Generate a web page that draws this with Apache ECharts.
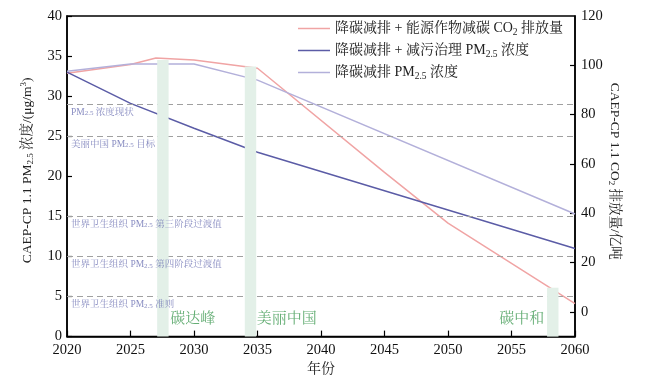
<!DOCTYPE html>
<html>
<head>
<meta charset="utf-8">
<script src="https://cdn.jsdelivr.net/npm/echarts@6/dist/echarts.min.js"></script>
<style>html,body{margin:0;padding:0;background:#fff}#c{width:650px;height:381px}</style>
</head>
<body>
<div id="c"></div>
<script>
// ---- data ----
const xTicks = [2020, 2025, 2030, 2035, 2040, 2045, 2050, 2055, 2060];
const leftTicks = [0, 5, 10, 15, 20, 25, 30, 35, 40];
const rightTicks = [0, 20, 40, 60, 80, 100, 120];

const co2Years = [2020, 2025, 2027, 2030, 2035, 2045, 2050, 2060];
const co2Values = [96.8, 100.3, 103.0, 102.2, 98.8, 56.6, 36.0, 3.4];

const pmControlYears = [2020, 2025, 2030, 2035, 2060];
const pmControlValues = [33.0, 29.1, 26.0, 23.0, 11.0];

const pmCarbonYears = [2020, 2025, 2030, 2035, 2060];
const pmCarbonValues = [33.1, 34.0, 34.0, 32.0, 15.3];

const refValues = [29, 25, 15, 10, 5];
const refLabels = ['PM{s|2.5} 浓度现状', '美丽中国 PM{s|2.5} 目标', '世界卫生组织 PM{s|2.5} 第三阶段过渡值', '世界卫生组织 PM{s|2.5} 第四阶段过渡值', '世界卫生组织 PM{s|2.5} 准则'];

const barStart = [2027.1, 2034.0, 2057.8];
const barEnd = [2028.0, 2034.9, 2058.7];
const barTop = [34.5, 33.7, 6.1];

const milestoneNames = ['碳达峰', '美丽中国', '碳中和'];
const milestoneX = [2029.9, 2037.3, 2055.8];
const milestoneY = [2.2, 2.2, 2.2];

const seriesNames = ['降碳减排 + 能源作物减碳 CO2 排放量', '降碳减排 + 减污治理 PM2.5 浓度', '降碳减排 PM2.5 浓度'];
const legendRichNames = ['降碳减排 + 能源作物减碳 CO{sub|2} 排放量', '降碳减排 + 减污治理 PM{sub|2.5} 浓度', '降碳减排 PM{sub|2.5} 浓度'];

// ---- chart ----
const FONT = "'Liberation Serif', 'Noto Serif CJK SC', 'Noto Sans CJK SC', serif";
const zip = (xs, ys) => xs.map((x, i) => [x, ys[i]]);
const chart = echarts.init(document.getElementById('c'), null, {renderer: 'canvas'});

const option = {
  animation: false,
  textStyle: {fontFamily: FONT},
  grid: {left: 67, right: 75, top: 16, bottom: 44, show: true, borderColor: '#000', borderWidth: 1.5, backgroundColor: 'transparent'},
  legend: {
    orient: 'vertical', left: 293, top: 15, itemGap: 5, itemWidth: 32, itemHeight: 1.5, icon: 'rect',
    data: seriesNames,
    formatter: name => legendRichNames[seriesNames.indexOf(name)],
    textStyle: {fontFamily: FONT, fontSize: 14, color: '#222', lineHeight: 17,
      rich: {sub: {fontFamily: FONT, fontSize: 9.5, lineHeight: 10, verticalAlign: 'bottom', color: '#222'}}}
  },
  xAxis: {
    type: 'value', min: 2020, max: 2060, interval: 5,
    name: '年份', nameLocation: 'middle', nameGap: 25,
    nameTextStyle: {fontFamily: FONT, fontSize: 14, color: '#222'},
    axisLine: {lineStyle: {color: '#000', width: 1.5}},
    axisTick: {inside: true, length: 6, lineStyle: {color: '#000', width: 1.2}},
    axisLabel: {fontFamily: FONT, fontSize: 14.5, color: '#111', margin: 6, customValues: xTicks, formatter: v => String(v)},
    splitLine: {show: false}
  },
  yAxis: [{
    type: 'value', min: 0, max: 40, interval: 5, position: 'left',
    name: 'CAEP-CP 1.1 PM{s|2.5} 浓度/(μg/m{p|3})', nameLocation: 'middle', nameGap: 32, nameMoveOverlap: false,
    nameTextStyle: {fontFamily: FONT, fontSize: 13.5, color: '#222', lineHeight: 16, padding: [0, 0, 0, 12],
      rich: {s: {fontFamily: FONT, fontSize: 9, lineHeight: 10, verticalAlign: 'bottom'},
             p: {fontFamily: FONT, fontSize: 9, lineHeight: 10, verticalAlign: 'top'}}},
    axisLine: {show: true, lineStyle: {color: '#000', width: 1.5}},
    axisTick: {show: true, inside: true, length: 5, lineStyle: {color: '#000', width: 1.2}},
    axisLabel: {fontFamily: FONT, fontSize: 14.5, color: '#111', margin: 5, customValues: leftTicks},
    splitLine: {show: false}
  }, {
    type: 'value', min: -10, max: 120, position: 'right',
    name: 'CAEP-CP 1.1 CO{s|2} 排放量/亿吨', nameLocation: 'middle', nameGap: 32, nameRotate: -90, nameMoveOverlap: false,
    nameTextStyle: {fontFamily: FONT, fontSize: 13.5, color: '#222', lineHeight: 16, padding: [0, 10, 0, 0],
      rich: {s: {fontFamily: FONT, fontSize: 9, lineHeight: 10, verticalAlign: 'bottom'}}},
    axisLine: {show: true, lineStyle: {color: '#000', width: 1.5}},
    axisTick: {show: true, inside: true, length: 5, customValues: rightTicks.slice(0, -1), lineStyle: {color: '#000', width: 1.2}},
    axisLabel: {fontFamily: FONT, fontSize: 14.5, color: '#111', margin: 6, customValues: rightTicks},
    splitLine: {show: false}
  }],
  series: [{
    name: seriesNames[0], type: 'line', yAxisIndex: 1, symbol: 'none', z: 3,
    lineStyle: {color: '#f0a4a4', width: 1.5}, itemStyle: {color: '#f0a4a4'},
    data: zip(co2Years, co2Values)
  }, {
    name: seriesNames[1], type: 'line', yAxisIndex: 0, symbol: 'none', z: 3,
    lineStyle: {color: '#5b5ca6', width: 1.5}, itemStyle: {color: '#5b5ca6'},
    data: zip(pmControlYears, pmControlValues),
    markLine: {
      silent: true, symbol: 'none', animation: false,
      lineStyle: {color: '#a0a0a0', type: [6, 4], width: 1},
      label: {show: false},
      data: refValues.map(v => ({yAxis: v}))
    }
  }, {
    name: seriesNames[2], type: 'line', yAxisIndex: 0, symbol: 'none', z: 3,
    lineStyle: {color: '#b3b0da', width: 1.5}, itemStyle: {color: '#b3b0da'},
    data: zip(pmCarbonYears, pmCarbonValues)
  }, {
    type: 'custom', yAxisIndex: 0, z: 5, silent: true,
    encode: {x: [0, 1], y: 2},
    data: barStart.map((s, i) => [s, barEnd[i], barTop[i]]),
    renderItem: (params, api) => {
      const p1 = api.coord([api.value(0), api.value(2)]);
      const p2 = api.coord([api.value(1), 0]);
      return {type: 'rect', shape: {x: p1[0], y: p1[1], width: p2[0] - p1[0], height: p2[1] - p1[1]},
        style: {fill: '#e3f0e8'}};
    }
  }, {
    type: 'scatter', yAxisIndex: 0, z: 6, silent: true, symbolSize: 0,
    label: {show: true, position: [4, 8], align: 'left', verticalAlign: 'middle', formatter: p => refLabels[p.dataIndex],
      fontFamily: FONT, fontSize: 9.5, color: '#6a6fb2',
      rich: {s: {fontFamily: FONT, fontSize: 7, verticalAlign: 'bottom', color: '#6a6fb2'}}},
    data: refValues.map(v => [2020, v])
  }, {
    type: 'scatter', yAxisIndex: 0, z: 6, silent: true, symbolSize: 0,
    label: {show: true, position: 'inside', formatter: '{b}', fontFamily: FONT, fontSize: 15, color: '#3f9a52'},
    data: milestoneNames.map((n, i) => ({name: n, value: [milestoneX[i], milestoneY[i]]}))
  }]
};
chart.setOption(option);
</script>
</body>
</html>
